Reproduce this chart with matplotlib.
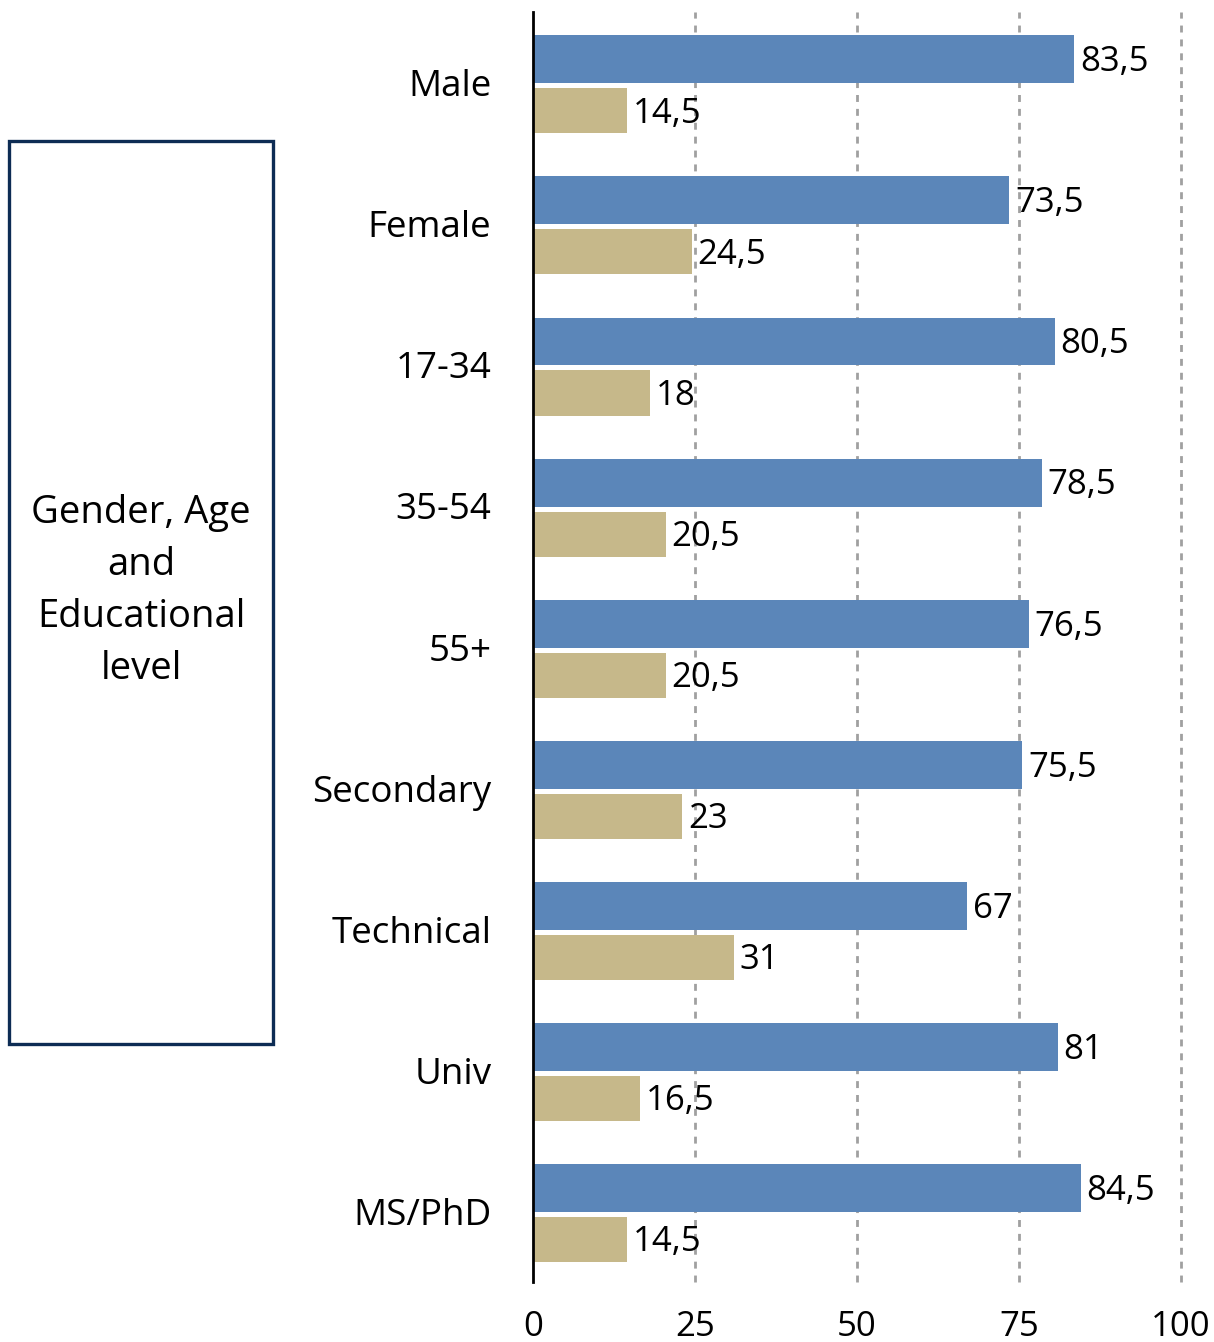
import matplotlib.pyplot as plt
from matplotlib.patches import Rectangle
import numpy as np

categories = ["Male", "Female", "17-34", "35-54", "55+", "Secondary", "Technical", "Univ", "MS/PhD"]
blue_vals = [83.5, 73.5, 80.5, 78.5, 76.5, 75.5, 67, 81, 84.5]
tan_vals = [14.5, 24.5, 18, 20.5, 20.5, 23, 31, 16.5, 14.5]
xticks = [0, 25, 50, 75, 100]
box_text = "Gender, Age\nand\nEducational\nlevel"

plt.rcParams['font.family'] = ['Open Sans', 'DejaVu Sans']
FS_NUM = 25
FS_LAB = 26.5

fig = plt.figure(figsize=(12.14, 13.42), dpi=100)
ax = fig.add_axes([533/1214, 1 - 1282/1342, 648/1214, 1270/1342])

y = np.arange(len(categories))
ax.barh(y - 0.165, blue_vals, height=0.34, color="#5B86B9", zorder=3)
ax.barh(y + 0.2, tan_vals, height=0.32, color="#C6B88A", zorder=3)

def fmt(v):
    return (f"{v:g}").replace(".", ",")

# value labels, a touch below the bar centre like the original
for i in range(len(categories)):
    ax.text(blue_vals[i] + 0.9, y[i] - 0.145, fmt(blue_vals[i]), va="center", ha="left", fontsize=FS_NUM, zorder=4)
    ax.text(tan_vals[i] + 0.9, y[i] + 0.22, fmt(tan_vals[i]), va="center", ha="left", fontsize=FS_NUM, zorder=4)

ax.set_xlim(0, 100)
ax.set_ylim(len(categories) - 0.5, -0.5)
ax.set_yticks(y)
ax.set_yticklabels(categories, fontsize=FS_LAB)
ax.set_xticks(xticks)
ax.set_xticklabels([str(t) for t in xticks], fontsize=FS_NUM)
ax.tick_params(axis="both", length=0)
ax.tick_params(axis="y", pad=30)
ax.tick_params(axis="x", pad=20)

for t in xticks[1:]:
    ax.axvline(t, color="#A0A0A0", linestyle=(0, (2.5, 2.5)), linewidth=2, zorder=1, clip_on=False)

for s in ["top", "right", "bottom"]:
    ax.spines[s].set_visible(False)
ax.spines["left"].set_linewidth(2)
ax.spines["left"].set_zorder(5)

box = Rectangle((9/1214, 1 - 1044/1342), 264/1214, 903/1342, transform=fig.transFigure,
                fill=False, edgecolor="#0D2C54", linewidth=2.4)
fig.patches.append(box)
fig.text(141/1214, 1 - 591/1342, box_text, ha="center", va="center", fontsize=FS_LAB + 1, linespacing=1.48)

plt.savefig("out.png", dpi=100)
